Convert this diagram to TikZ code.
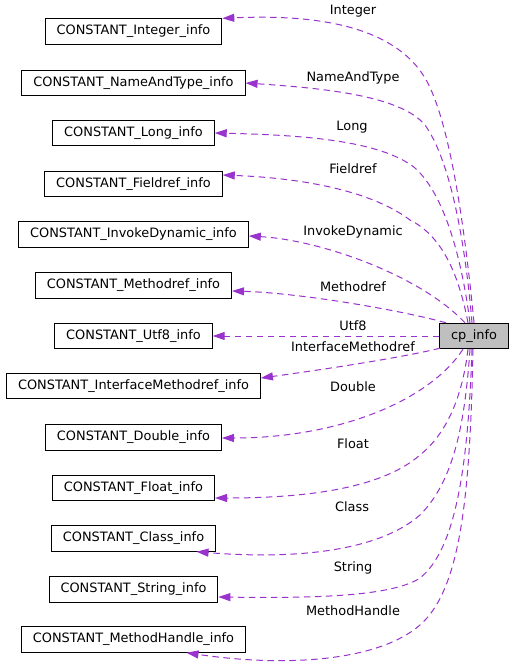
\documentclass[tikz,border=0pt]{standalone}
\usepackage{fontspec}
\setmainfont{DejaVu Sans}
\usetikzlibrary{arrows.meta}
\definecolor{edgecol}{HTML}{9A32CD}
\definecolor{boxgray}{HTML}{BFBFBF}
\begin{document}
\begin{tikzpicture}[x=1pt,y=-1pt,
  box/.style={draw=black,line width=0.9pt,inner xsep=11.5pt,inner ysep=0pt,minimum height=25.5pt,font=\fontsize{12.9}{15}\selectfont,anchor=center},
  mainbox/.style={box,fill=boxgray},
  edge/.style={draw=edgecol,line width=1pt,dash pattern=on 6.5pt off 4.5pt,-{Triangle[length=12pt,width=8pt]}},
  lbl/.style={font=\fontsize{12.9}{15}\selectfont,inner sep=0pt,anchor=center}]
\useasboundingbox (0,0) rectangle (515,668);
\fill[white] (0,0) rectangle (515,668);
% nodes
\node[mainbox] (cp) at (474,336) {cp\_info};
\node[box] (int) at (133.5,31.5) {CONSTANT\_Integer\_info};
\node[box] (nat) at (133.5,83) {CONSTANT\_NameAndType\_info};
\node[box] (lng) at (133.5,133) {CONSTANT\_Long\_info};
\node[box] (fr) at (133.5,184) {CONSTANT\_Fieldref\_info};
\node[box] (idy) at (133.5,234.5) {CONSTANT\_InvokeDynamic\_info};
\node[box] (mr) at (133.5,285.5) {CONSTANT\_Methodref\_info};
\node[box] (utf) at (133.5,336) {CONSTANT\_Utf8\_info};
\node[box] (imr) at (133.5,386) {CONSTANT\_InterfaceMethodref\_info};
\node[box] (dbl) at (133.5,437.5) {CONSTANT\_Double\_info};
\node[box] (flt) at (133.5,488) {CONSTANT\_Float\_info};
\node[box] (cls) at (133.5,538.5) {CONSTANT\_Class\_info};
\node[box] (str) at (133.5,589.5) {CONSTANT\_String\_info};
\node[box] (mh) at (133.5,639.5) {CONSTANT\_MethodHandle\_info};
% edges
\draw[edge] (cp.north) .. controls (465,230) and (450,120) .. (425,78) .. controls (390,20) and (300,15) .. (int.north east);
\draw[edge] ([xshift=-2pt]cp.north) .. controls (465,240) and (450,160) .. (425,125) .. controls (400,95) and (320,88) .. (nat.east);
\draw[edge] ([xshift=-4pt]cp.north) .. controls (462,260) and (445,195) .. (415,168) .. controls (380,140) and (300,135) .. (lng.east);
\draw[edge] ([xshift=-6pt]cp.north) .. controls (458,270) and (440,235) .. (410,220) .. controls (370,190) and (300,178) .. ([yshift=9pt]fr.east);
\draw[edge] ([xshift=-9pt]cp.north) .. controls (420,275) and (320,240) .. ([yshift=-1.5pt]idy.east);
\draw[edge] ([xshift=-28pt]cp.north) .. controls (400,310) and (300,293) .. ([yshift=-5.5pt]mr.east);
\draw[edge] (cp.west) -- (utf.east);
\draw[edge] ([xshift=1pt,yshift=1pt]cp.south west) .. controls (400,358) and (320,370) .. ([yshift=8pt]imr.east);
\draw[edge] ([xshift=-11pt]cp.south) .. controls (430,400) and (340,438) .. ([yshift=-0.5pt]dbl.east);
\draw[edge] ([xshift=-6pt]cp.south) .. controls (462,400) and (445,435) .. (420,455) .. controls (380,490) and (300,498) .. ([yshift=-10pt]flt.east);
\draw[edge] ([xshift=-4pt]cp.south) .. controls (465,420) and (455,480) .. (420,515) .. controls (380,550) and (300,560) .. ([xshift=63pt]cls.south);
\draw[edge] ([xshift=-2pt]cp.south) .. controls (468,470) and (455,550) .. (420,578) .. controls (390,598) and (300,598) .. ([yshift=-7.5pt]str.east);
\draw[edge] ([xshift=-1pt]cp.south) .. controls (470,500) and (460,590) .. (420,625) .. controls (380,660) and (290,668) .. ([xshift=53pt]mh.south);
% labels
\node[lbl] (lint) at (353,11) {Integer};
\node[lbl] (lnat) at (353,78) {NameAndType};
\node[lbl] (llng) at (352,127) {Long};
\node[lbl] (lfr) at (353,169) {Fieldref};
\node[lbl] (lidy) at (353,232) {InvokeDynamic};
\node[lbl] (lmr) at (353,287) {Methodref};
\node[lbl] (lutf) at (353,326) {Utf8};
\node[lbl] (limr) at (353,347) {InterfaceMethodref};
\node[lbl] (ldbl) at (353,387) {Double};
\node[lbl] (lflt) at (353,444) {Float};
\node[lbl] (lcls) at (352,507) {Class};
\node[lbl] (lstr) at (353,568) {String};
\node[lbl] (lmh) at (353,611) {MethodHandle};
\end{tikzpicture}
\end{document}
